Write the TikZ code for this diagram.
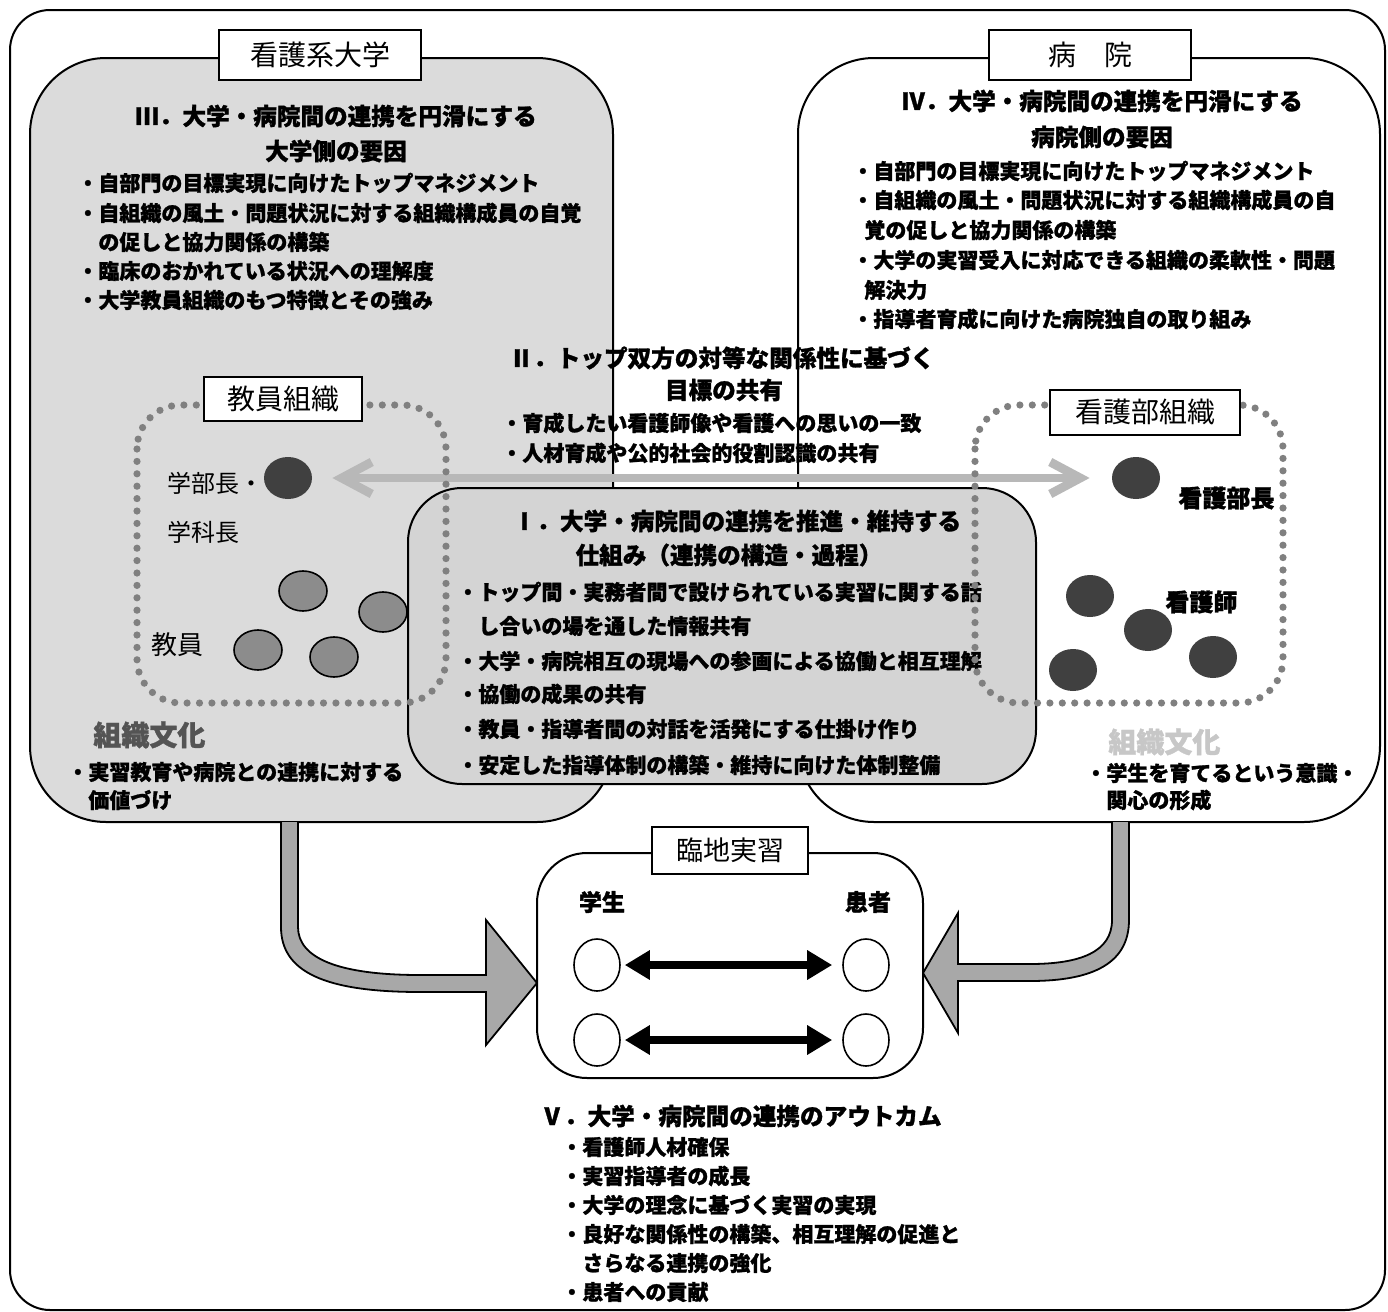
\documentclass[tikz,border=0pt]{standalone}
\usepackage{fontspec}
\newfontfamily\jp{Noto Sans CJK JP}[BoldFeatures={FakeBold=1.2}]
\usetikzlibrary{shapes.geometric,arrows.meta}
\definecolor{boxgray}{gray}{0.86}
\definecolor{igray}{gray}{0.83}
\definecolor{dotgray}{gray}{0.5}
\definecolor{darkdot}{gray}{0.25}
\definecolor{midgray}{gray}{0.55}
\definecolor{arrowgray}{gray}{0.72}
\definecolor{culL}{gray}{0.33}
\definecolor{culR}{gray}{0.78}
\definecolor{blockgray}{gray}{0.66}
\tikzset{
  outerframe/.style={draw=black, line width=1pt, rounded corners=20pt},
  bigbox/.style={draw=black, line width=1pt, rounded corners=38pt},
  bul/.style={font=\jp\bfseries\fontsize{10.5}{12}\selectfont, inner sep=0pt, anchor=west},
  ttl/.style={font=\jp\bfseries\fontsize{11.8}{13}\selectfont, inner sep=0pt},
  lbl/.style={draw=black, line width=1pt, fill=white, inner sep=0pt, font=\jp\fontsize{14}{16}\selectfont},
  pname/.style={font=\jp\fontsize{12}{14}\selectfont, inner sep=0pt, anchor=west},
  pnameb/.style={font=\jp\bfseries\fontsize{12}{14}\selectfont, inner sep=0pt, anchor=west},
  dotbox/.style={draw=dotgray, line width=3.6pt, line cap=round, dash pattern=on 0pt off 6.2pt, rounded corners=22pt},
  darkc/.style={ellipse, fill=darkdot, minimum width=24pt, minimum height=21pt, inner sep=0pt},
  midc/.style={ellipse, fill=midgray, draw=black, line width=0.8pt, minimum width=24pt, minimum height=20pt, inner sep=0pt},
  whitec/.style={ellipse, draw=black, fill=white, line width=0.8pt, minimum width=23pt, minimum height=26pt, inner sep=0pt},
  grayarr/.style={draw=arrowgray, line width=4.4pt, {Straight Barb[length=15pt,width=16pt]}-{Straight Barb[length=15pt,width=16pt]}},
  blackarr/.style={draw=black, line width=4pt, {Triangle[length=12.5pt,width=14pt]}-{Triangle[length=12.5pt,width=14pt]}},
  blockarr/.style={fill=blockgray, draw=black, line width=0.9pt, line join=miter},
}
\begin{document}
\begin{tikzpicture}[x=0.5pt,y=-0.5pt]
\useasboundingbox (0,0) rectangle (1388,1312);
% outer frame
\draw[outerframe, fill=white] (10,10) rectangle (1385,1310);
% main boxes
\draw[bigbox, fill=boxgray] (30,58) rectangle (613,822);
\draw[bigbox, fill=white] (798,58) rectangle (1380,822);
\node[lbl, minimum width=101pt, minimum height=25pt] (univ) at (320,55) {看護系大学};
\node[lbl, minimum width=101pt, minimum height=25pt] (hosp) at (1090,55) {病　院};
% III
\node[ttl] (t3a) at (336,116) {Ⅲ．大学・病院間の連携を円滑にする};
\node[ttl] (t3b) at (336,151) {大学側の要因};
\node[bul] (t3c) at (77,183) {・自部門の目標実現に向けたトップマネジメント};
\node[bul] (t3d) at (77,213) {・自組織の風土・問題状況に対する組織構成員の自覚};
\node[bul] (t3e) at (98,242) {の促しと協力関係の構築};
\node[bul] (t3f) at (77,271) {・臨床のおかれている状況への理解度};
\node[bul] (t3g) at (77,300) {・大学教員組織のもつ特徴とその強み};
% IV
\node[ttl] (t4a) at (1102,101) {Ⅳ．大学・病院間の連携を円滑にする};
\node[ttl] (t4b) at (1102,137) {病院側の要因};
\node[bul] (t4c) at (852,171) {・自部門の目標実現に向けたトップマネジメント};
\node[bul] (t4d) at (852,200) {・自組織の風土・問題状況に対する組織構成員の自};
\node[bul] (t4e) at (864,230) {覚の促しと協力関係の構築};
\node[bul] (t4f) at (852,260) {・大学の実習受入に対応できる組織の柔軟性・問題};
\node[bul] (t4g) at (864,290) {解決力};
\node[bul] (t4h) at (852,319) {・指導者育成に向けた病院独自の取り組み};
% II
\node[ttl] (t2a) at (722,358) {Ⅱ．トップ双方の対等な関係性に基づく};
\node[ttl] (t2b) at (724,390) {目標の共有};
\node[bul] (t2c) at (501,423) {・育成したい看護師像や看護への思いの一致};
\node[bul] (t2d) at (501,453) {・人材育成や公的社会的役割認識の共有};
% persons in faculty
\node[darkc] (dean) at (288,478) {};
\node[pname] (deanl) at (167,483) {学部長・};
\node[pname] (deanl2) at (167,532) {学科長};
\node[midc] (f1) at (303,591) {};
\node[midc] (f2) at (383,612) {};
\node[midc] (f3) at (258,650) {};
\node[midc] (f4) at (334,657) {};
\node[font=\jp\fontsize{13}{15}\selectfont, inner sep=0pt, anchor=west] (facl) at (151,645) {教員};
% persons in nursing department
\node[darkc] (chief) at (1136,478) {};
\node[pnameb] (chiefl) at (1178,498) {看護部長};
\node[darkc] (n1) at (1090,596) {};
\node[darkc] (n2) at (1148,630) {};
\node[darkc] (n3) at (1213,657) {};
\node[darkc] (n4) at (1073,670) {};
\node[pnameb] (nursel) at (1165,602) {看護師};
% gray double arrow
\draw[grayarr, shorten <=10pt, shorten >=11pt] (dean) -- (chief);
% I box
\draw[bigbox, fill=igray, rounded corners=27pt] (408,488) rectangle (1036,784);
\node[ttl] (t1a) at (737,521) {Ⅰ．大学・病院間の連携を推進・維持する};
\node[ttl] (t1b) at (729,555) {仕組み（連携の構造・過程）};
\node[bul] (t1c) at (457,592) {・トップ間・実務者間で設けられている実習に関する話};
\node[bul] (t1d) at (478,626) {し合いの場を通した情報共有};
\node[bul] (t1e) at (457,661) {・大学・病院相互の現場への参画による協働と相互理解};
\node[bul] (t1f) at (457,694) {・協働の成果の共有};
\node[bul] (t1g) at (457,729) {・教員・指導者間の対話を活発にする仕掛け作り};
\node[bul] (t1h) at (457,765) {・安定した指導体制の構築・維持に向けた体制整備};
% dotted organisation boxes
\draw[dotbox] (137,405) rectangle (446,703);
\draw[dotbox] (975,405) rectangle (1283,703);
\node[lbl, minimum width=79pt, minimum height=22pt] (facorg) at (283,399) {教員組織};
\node[lbl, minimum width=95pt, minimum height=22.5pt] (nurorg) at (1145,412) {看護部組織};
% organisational culture
\node[font=\jp\bfseries\fontsize{14}{16}\selectfont, text=culL, inner sep=0pt, anchor=west] (culL) at (93,735) {組織文化};
\node[bul] (cl1) at (67,772) {・実習教育や病院との連携に対する};
\node[bul] (cl2) at (88,800) {価値づけ};
\node[font=\jp\bfseries\fontsize{14}{16}\selectfont, text=culR, inner sep=0pt, anchor=west] (culR) at (1108,742) {組織文化};
\node[bul] (cr1) at (1085,773) {・学生を育てるという意識・};
\node[bul] (cr2) at (1106,800) {関心の形成};
% block arrows
\filldraw[blockarr] (281,822) -- (281,927) .. controls (281,972) and (325,992) .. (420,992) -- (486,992) -- (486,1045) -- (537,983) -- (486,920) -- (486,975) -- (420,975) .. controls (338,975) and (298,958) .. (298,927) -- (298,822);
\filldraw[blockarr] (1112,822) -- (1112,920) .. controls (1112,952) and (1080,964) .. (1030,964) -- (958,964) -- (958,913) -- (923,973) -- (958,1033) -- (958,981) -- (1030,981) .. controls (1095,981) and (1129,962) .. (1129,920) -- (1129,822);
% practicum box
\draw[bigbox, fill=white, rounded corners=25pt] (537,853) rectangle (923,1078);
\node[lbl, minimum width=78pt, minimum height=23.5pt, font=\jp\fontsize{13.5}{15}\selectfont] (prac) at (730,850) {臨地実習};
\node[font=\jp\bfseries\fontsize{11.5}{13}\selectfont, inner sep=0pt] (stud) at (602,902) {学生};
\node[font=\jp\bfseries\fontsize{11.5}{13}\selectfont, inner sep=0pt] (pat) at (868,902) {患者};
\node[whitec] (s1) at (597,965) {};
\node[whitec] (p1) at (866,965) {};
\node[whitec] (s2) at (597,1040) {};
\node[whitec] (p2) at (866,1040) {};
\draw[blackarr, shorten <=2pt, shorten >=5pt] (s1) -- (p1);
\draw[blackarr, shorten <=2pt, shorten >=5pt] (s2) -- (p2);
% V
\node[ttl, anchor=west] (t5a) at (540,1116) {Ⅴ．大学・病院間の連携のアウトカム};
\node[bul] (t5b) at (561,1147) {・看護師人材確保};
\node[bul] (t5c) at (561,1176) {・実習指導者の成長};
\node[bul] (t5d) at (561,1205) {・大学の理念に基づく実習の実現};
\node[bul] (t5e) at (561,1234) {・良好な関係性の構築、相互理解の促進と};
\node[bul] (t5f) at (582,1263) {さらなる連携の強化};
\node[bul] (t5g) at (561,1292) {・患者への貢献};
\end{tikzpicture}
\end{document}
